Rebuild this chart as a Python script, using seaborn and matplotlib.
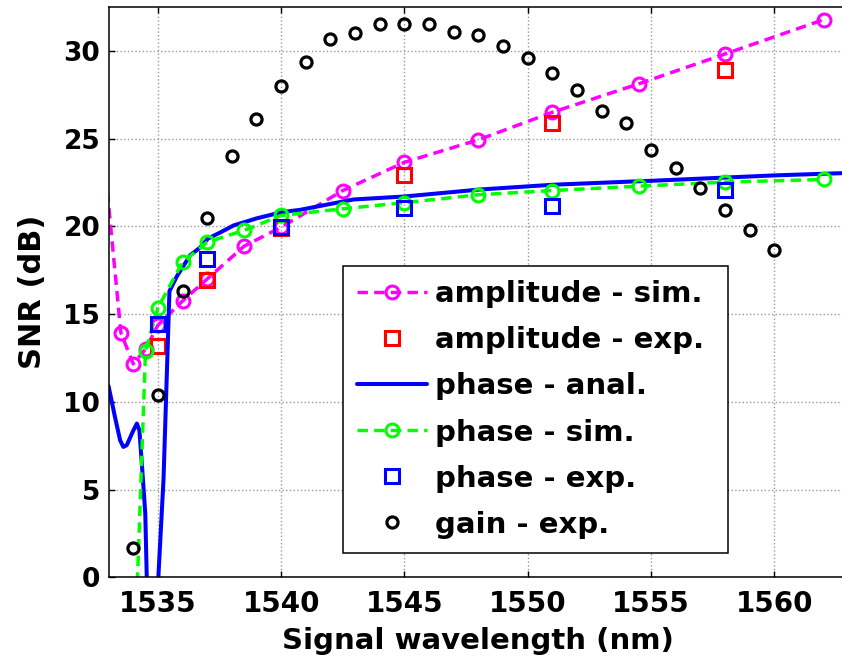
import matplotlib
matplotlib.use("Agg")
import matplotlib.pyplot as plt
import seaborn as sns

# values
amp_sim_x = [1532.5, 1533.5, 1534, 1534.5, 1535, 1536, 1537, 1538.5, 1540, 1542.5, 1545, 1548, 1551, 1554.5, 1558, 1562]
amp_sim_y = [28.6, 13.94, 12.16, 13.0, 14.36, 15.74, 17.0, 18.87, 19.95, 22.04, 23.65, 24.93, 26.5, 28.12, 29.82, 31.78]

amp_exp_x = [1535, 1537, 1540, 1545, 1551, 1558]
amp_exp_y = [13.18, 16.92, 19.9, 22.9, 25.87, 28.9]

phase_anal_x = [1533.0, 1533.26, 1533.47, 1533.6, 1533.74, 1534.01, 1534.15, 1534.25, 1534.35, 1534.49,
                1534.55, 1534.65, 1534.8, 1534.95, 1535.02, 1535.23, 1535.47, 1535.77, 1536.31, 1536.72,
                1537.03, 1537.53, 1538.07, 1539.0, 1540.03, 1540.77, 1542.93, 1545.0, 1548.07, 1551.02,
                1554.16, 1555.1, 1559.96, 1562.75, 1563.5]
phase_anal_y = [10.9, 9.14, 7.81, 7.43, 7.53, 8.38, 8.76, 8.38, 6.49, 3.64,
                0.0, -4.0, -9.0, -4.0, 0.0, 5.6, 16.3, 17.15, 18.35, 18.8,
                19.3, 19.65, 20.05, 20.45, 20.81, 20.94, 21.53, 21.7, 22.1, 22.37,
                22.55, 22.6, 22.9, 23.03, 23.1]

phase_sim_x = [1534.0, 1534.5, 1535, 1536, 1537, 1538.5, 1540, 1542.5, 1545, 1548, 1551, 1554.5, 1558, 1562]
phase_sim_y = [-7.0, 12.9, 15.35, 17.95, 19.1, 19.77, 20.62, 21.0, 21.35, 21.8, 22.04, 22.29, 22.52, 22.67]

phase_exp_x = [1535, 1537, 1540, 1545, 1551, 1558]
phase_exp_y = [14.42, 18.16, 19.99, 21.07, 21.15, 22.08]

gain_x = list(range(1534, 1561))
gain_y = [1.65, 10.4, 16.3, 20.5, 24.0, 26.1, 28.0, 29.35, 30.65, 31.0, 31.55, 31.55, 31.55, 31.1,
          30.9, 30.25, 29.6, 28.75, 27.75, 26.55, 25.9, 24.35, 23.3, 22.2, 20.95, 19.8, 18.65]

sns.set_style("ticks")
plt.rcParams['font.family'] = ['DejaVu Sans']
plt.rcParams['font.weight'] = 'bold'
plt.rcParams['axes.labelweight'] = 'bold'
# seaborn's style greys the text, the original is pure black
plt.rcParams['text.color'] = 'black'
plt.rcParams['axes.labelcolor'] = 'black'
plt.rcParams['xtick.color'] = 'black'
plt.rcParams['ytick.color'] = 'black'

fig = plt.figure(figsize=(8.42, 6.65), dpi=100)
ax = fig.add_axes([0.1289, 0.1319, 0.8786, 0.8576])

dash = (0, (3, 1.8))
sns.lineplot(x=amp_sim_x, y=amp_sim_y, ax=ax, color='#FF00FF', lw=2.5, linestyle=dash,
             marker='o', ms=9.3, mfc='none', mec='#FF00FF', mew=2.2,
             label='amplitude - sim.', estimator=None, sort=False)
sns.lineplot(x=amp_exp_x, y=amp_exp_y, ax=ax, color='#FF0000', linestyle='',
             marker='s', ms=10, mfc='none', mec='#FF0000', mew=2.2,
             label='amplitude - exp.', estimator=None, sort=False)
sns.lineplot(x=phase_anal_x, y=phase_anal_y, ax=ax, color='#0000FF', lw=2.9,
             label='phase - anal.', estimator=None, sort=False)
sns.lineplot(x=phase_sim_x, y=phase_sim_y, ax=ax, color='#00FF00', lw=2.5, linestyle=dash,
             marker='o', ms=9.3, mfc='none', mec='#00FF00', mew=2.2,
             label='phase - sim.', estimator=None, sort=False)
sns.lineplot(x=phase_exp_x, y=phase_exp_y, ax=ax, color='#0000FF', linestyle='',
             marker='s', ms=10, mfc='none', mec='#0000FF', mew=2.2,
             label='phase - exp.', estimator=None, sort=False)
sns.lineplot(x=gain_x, y=gain_y, ax=ax, color='black', linestyle='',
             marker='o', ms=8, mfc='none', mec='black', mew=2.3,
             label='gain - exp.', estimator=None, sort=False)

ax.set_xlim(1533, 1563)
ax.set_ylim(0, 32.5)
ax.set_xticks([1535, 1540, 1545, 1550, 1555, 1560])
ax.set_yticks([0, 5, 10, 15, 20, 25, 30])
ax.grid(True, color='#999999', linestyle=':', linewidth=1.0)
ax.set_axisbelow(True)

for s in ax.spines.values():
    s.set_color('black')
    s.set_linewidth(1.1)

ax.tick_params(direction='in', top=True, right=True, length=4, width=1, color='black')
ax.tick_params(axis='x', labelsize=20, pad=9, labelcolor='black')
ax.tick_params(axis='y', labelsize=19, pad=6, labelcolor='black')

ax.set_xlabel('Signal wavelength (nm)', fontsize=21, fontweight='bold', labelpad=6.5, color='black')
ax.set_ylabel('SNR (dB)', fontsize=22, fontweight='bold', labelpad=12, color='black')

leg = ax.legend(loc='upper left', bbox_to_anchor=(0.3167, 0.0, 0.5204, 0.5464), mode='expand',
                borderaxespad=0, fontsize=21, numpoints=1, handlelength=2.4, handletextpad=0.27,
                labelspacing=0.62, borderpad=0.5, fancybox=False, framealpha=1, edgecolor='black')
leg.get_frame().set_linewidth(1.1)
for t in leg.get_texts():
    t.set_fontweight('bold')
    t.set_color('black')

fig.savefig('out.png', dpi=100)
